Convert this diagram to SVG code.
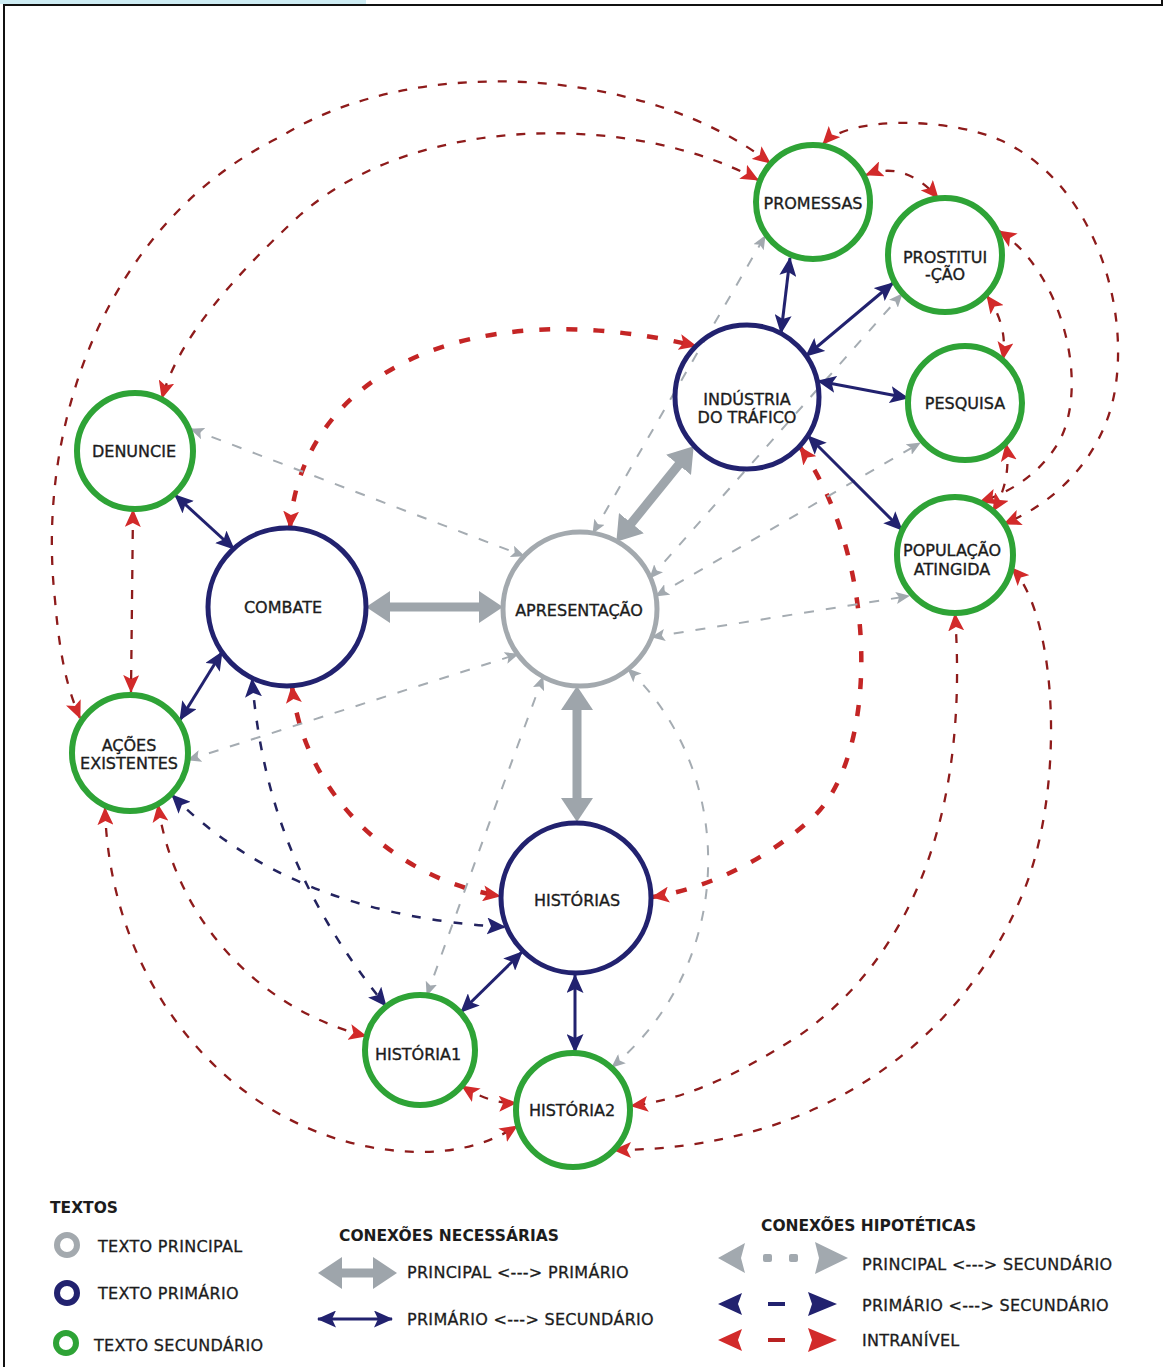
<svg xmlns="http://www.w3.org/2000/svg" width="1168" height="1367" viewBox="0 0 1168 1367">
<defs>
<style>
.lbl{font-family:"DejaVu Sans","Liberation Sans",sans-serif;font-size:16px;fill:#1c1c1c;stroke:#1c1c1c;stroke-width:0.35px;text-anchor:middle}
.leg{font-family:"DejaVu Sans","Liberation Sans",sans-serif;font-size:16px;fill:#1c1c1c;stroke:#1c1c1c;stroke-width:0.3px;letter-spacing:0.3px}
.ttl{font-family:"DejaVu Sans","Liberation Sans",sans-serif;font-size:15.5px;font-weight:bold;fill:#1c1c1c}
.sec{fill:#fff;stroke:#2ea336;stroke-width:6}
.pri{fill:#fff;stroke:#22226f;stroke-width:5}
.main{fill:#fff;stroke:#a3a9ae;stroke-width:5}
.gthick{stroke:#9ea5ab;stroke-width:9;fill:none;marker-start:url(#hG);marker-end:url(#hG)}
.nsol{stroke:#22226f;stroke-width:3;fill:none;marker-start:url(#hn);marker-end:url(#hn)}
.gdash{stroke:#a5acb2;stroke-width:2;fill:none;stroke-dasharray:10 12;marker-start:url(#hg);marker-end:url(#hg)}
.ndash{stroke:#23235f;stroke-width:2.5;fill:none;stroke-dasharray:9 12;marker-start:url(#hn);marker-end:url(#hn)}
.rdash{stroke:#8e1b1b;stroke-width:2.3;fill:none;stroke-dasharray:9 11;marker-start:url(#hr);marker-end:url(#hr)}
.rthick{stroke:#c42525;stroke-width:4.5;fill:none;stroke-dasharray:11 16;marker-start:url(#hr);marker-end:url(#hr)}
</style>
<marker id="hr" viewBox="0 0 18 16" refX="17" refY="8" markerWidth="18" markerHeight="16" markerUnits="userSpaceOnUse" orient="auto-start-reverse"><path d="M0,0 L18,8 L0,16 L4,8 Z" fill="#d22a2a"/></marker>
<marker id="hg" viewBox="0 0 14 12" refX="13" refY="6" markerWidth="14" markerHeight="12" markerUnits="userSpaceOnUse" orient="auto-start-reverse"><path d="M0,0 L14,6 L0,12 L3,6 Z" fill="#a2a9af"/></marker>
<marker id="hn" viewBox="0 0 19 17" refX="18" refY="8.5" markerWidth="19" markerHeight="17" markerUnits="userSpaceOnUse" orient="auto-start-reverse"><path d="M0,0 L19,8.5 L0,17 L4,8.5 Z" fill="#22226f"/></marker>
<marker id="hG" viewBox="0 0 24 32" refX="1" refY="16" markerWidth="24" markerHeight="32" markerUnits="userSpaceOnUse" orient="auto-start-reverse"><path d="M0,0 L24,16 L0,32 Z" fill="#9ea5ab"/></marker>
</defs>
<rect width="1168" height="1367" fill="#fff"/>
<g id="frame">
<rect x="0" y="0" width="366" height="4" fill="#cdecf3"/>
<line x1="3" y1="5" x2="1163" y2="5" stroke="#111" stroke-width="2"/>
<line x1="4" y1="5" x2="4" y2="1367" stroke="#111" stroke-width="2"/>
<line x1="1162" y1="0" x2="1162" y2="5" stroke="#111" stroke-width="2"/>
</g>
<g id="connectors">
<path class="rdash" d="M770,163 C650,70 420,50 280,137 C110,220 35,420 55,600 C60,660 68,690 80,718"/>
<path class="rdash" d="M758,180 C640,115 420,110 300,215 C230,280 178,340 162,398"/>
<path class="rdash" d="M133,510 L131,692"/>
<path class="rdash" d="M158,805 C175,920 260,1010 366,1036"/>
<path class="rdash" d="M105,808 C110,1000 250,1150 420,1152 C465,1152 495,1140 517,1126"/>
<path class="rdash" d="M462,1086 Q490,1104 516,1103"/>
<path class="rdash" d="M955,614 C968,800 920,950 800,1035 C730,1080 680,1100 631,1106"/>
<path class="rdash" d="M1012,568 C1060,620 1065,800 1020,900 C960,1040 820,1150 614,1150"/>
<path class="rdash" d="M866,175 Q905,160 938,198"/>
<path class="rdash" d="M987,296 Q1008,325 1003,359"/>
<path class="rdash" d="M999,231 C1060,270 1090,380 1060,440 C1040,475 1010,492 980,502"/>
<path class="rdash" d="M1006,444 Q1012,480 993,511"/>
<path class="rdash" d="M823,144 C850,115 950,118 1000,140 C1090,180 1130,300 1115,390 C1105,450 1062,500 1004,524"/>
<path class="rthick" d="M290,528 C300,380 460,290 696,346"/>
<path class="rthick" d="M292,686 C305,800 400,880 500,896"/>
<path class="rthick" d="M800,447 C880,560 880,760 810,820 C760,865 700,890 652,897"/>
<path class="gdash" d="M191,429 L524,556"/>
<path class="gdash" d="M188,760 L518,654"/>
<path class="gdash" d="M543,677 Q490,820 427,995"/>
<path class="gdash" d="M628,669 C735,770 740,960 612,1067"/>
<path class="gdash" d="M652,637 L909,596"/>
<path class="gdash" d="M656,596 L920,443"/>
<path class="gdash" d="M650,578 L902,294"/>
<path class="gdash" d="M593,533 L765,236"/>
<path class="ndash" d="M172,795 Q290,915 505,927"/>
<path class="ndash" d="M252,679 C262,800 300,900 386,1006"/>
<line class="gthick" x1="389" y1="607" x2="480" y2="607"/>
<line class="gthick" x1="630.8" y1="523.9" x2="679.2" y2="464.1"/>
<line class="gthick" x1="577" y1="709" x2="577" y2="799"/>
<line class="nsol" x1="175" y1="495" x2="234" y2="549"/>
<line class="nsol" x1="222" y1="652" x2="180" y2="720"/>
<line class="nsol" x1="781" y1="333" x2="790" y2="258"/>
<line class="nsol" x1="806" y1="356" x2="893" y2="283"/>
<line class="nsol" x1="818" y1="381" x2="908" y2="398"/>
<line class="nsol" x1="808" y1="436" x2="902" y2="530"/>
<line class="nsol" x1="522" y1="952" x2="461" y2="1012"/>
<line class="nsol" x1="575" y1="975" x2="575" y2="1052"/>
</g>
<g id="n-promessas"><circle class="sec" cx="813" cy="202" r="57"/><text class="lbl" x="813" y="209">PROMESSAS</text></g>
<g id="n-prostituicao"><circle class="sec" cx="945" cy="255" r="57"/><text class="lbl" x="945" y="263">PROSTITUI</text><text class="lbl" x="945" y="280">-ÇÃO</text></g>
<g id="n-industria"><circle class="pri" cx="747" cy="397" r="72" style="fill:none"/><text class="lbl" x="747" y="405">INDÚSTRIA</text><text class="lbl" x="747" y="423">DO TRÁFICO</text></g>
<g id="n-pesquisa"><circle class="sec" cx="965" cy="403" r="57"/><text class="lbl" x="965" y="409">PESQUISA</text></g>
<g id="n-populacao"><circle class="sec" cx="955" cy="555" r="58"/><text class="lbl" x="952" y="556">POPULAÇÃO</text><text class="lbl" x="952" y="575">ATINGIDA</text></g>
<g id="n-denuncie"><circle class="sec" cx="135" cy="451" r="58"/><text class="lbl" x="134" y="457">DENUNCIE</text></g>
<g id="n-combate"><circle class="pri" cx="287" cy="607" r="79"/><text class="lbl" x="283" y="613">COMBATE</text></g>
<g id="n-apresentacao"><circle class="main" cx="580" cy="609" r="77"/><text class="lbl" x="579" y="616">APRESENTAÇÃO</text></g>
<g id="n-acoes"><circle class="sec" cx="130" cy="753" r="58"/><text class="lbl" x="129" y="751">AÇÕES</text><text class="lbl" x="129" y="769">EXISTENTES</text></g>
<g id="n-historias"><circle class="pri" cx="576" cy="898" r="75"/><text class="lbl" x="577" y="906">HISTÓRIAS</text></g>
<g id="n-historia1"><circle class="sec" cx="420" cy="1050" r="55"/><text class="lbl" x="418" y="1060">HISTÓRIA1</text></g>
<g id="n-historia2"><circle class="sec" cx="573" cy="1110" r="57"/><text class="lbl" x="572" y="1116">HISTÓRIA2</text></g>
<g id="legend">
<text class="ttl" x="50" y="1213">TEXTOS</text>
<circle cx="67" cy="1245" r="10" fill="none" stroke="#a3a9ae" stroke-width="6"/>
<text class="leg" x="98" y="1252">TEXTO PRINCIPAL</text>
<circle cx="67" cy="1293" r="10" fill="none" stroke="#22226f" stroke-width="6"/>
<text class="leg" x="98" y="1299">TEXTO PRIMÁRIO</text>
<circle cx="66" cy="1343" r="10" fill="none" stroke="#2ea336" stroke-width="6"/>
<text class="leg" x="94" y="1351">TEXTO SECUNDÁRIO</text>
<text class="ttl" x="339" y="1241">CONEXÕES NECESSÁRIAS</text>
<line class="gthick" x1="341" y1="1273" x2="374" y2="1273"/>
<text class="leg" x="407" y="1278">PRINCIPAL &lt;---&gt; PRIMÁRIO</text>
<line class="nsol" x1="318" y1="1319" x2="392" y2="1319"/>
<text class="leg" x="407" y="1325">PRIMÁRIO &lt;---&gt; SECUNDÁRIO</text>
<text class="ttl" x="761" y="1231">CONEXÕES HIPOTÉTICAS</text>
<path d="M718,1258 L745,1243 L741,1258 L745,1273 Z" fill="#a2a9af"/>
<rect x="763" y="1254" width="9" height="8" rx="2" fill="#a2a9af"/>
<rect x="789" y="1254" width="9" height="8" rx="2" fill="#a2a9af"/>
<path d="M848,1258 L815,1242 L819,1258 L815,1274 Z" fill="#a2a9af"/>
<text class="leg" x="862" y="1270">PRINCIPAL &lt;---&gt; SECUNDÁRIO</text>
<path d="M718,1304 L742,1293 L738,1304 L742,1315 Z" fill="#22226f"/>
<rect x="768" y="1302" width="17" height="4" fill="#22226f"/>
<path d="M837,1304 L808,1292 L812,1304 L808,1316 Z" fill="#22226f"/>
<text class="leg" x="862" y="1311">PRIMÁRIO &lt;---&gt; SECUNDÁRIO</text>
<path d="M718,1340 L742,1329 L738,1340 L742,1351 Z" fill="#d22a2a"/>
<rect x="768" y="1338" width="17" height="4" fill="#b82222"/>
<path d="M837,1340 L808,1328 L812,1340 L808,1352 Z" fill="#d22a2a"/>
<text class="leg" x="862" y="1346">INTRANÍVEL</text>
</g>
</svg>
